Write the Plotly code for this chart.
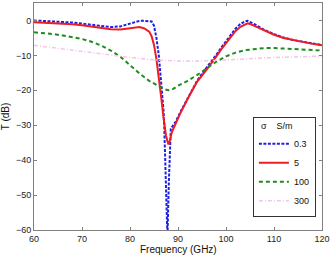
import plotly.graph_objects as go

# sigma = 0.3 S/m
f_03 = [60, 62, 65, 68, 70, 72, 74, 76, 78, 80, 81, 82, 83, 84, 84.5, 85, 85.5, 86, 86.5, 87, 87.15, 87.5, 87.8,
        88.1, 88.5, 89, 89.5, 90.5, 92, 94, 96, 97, 98, 99, 100, 101, 102, 103, 104, 104.5, 105, 106, 107, 108,
        110, 112, 114, 116, 118, 120]
t_03 = [0, -0.1, -0.3, -0.6, -0.9, -1.3, -1.7, -1.9, -1.7, -0.9, -0.4, -0.1, -0.1, -0.2, -0.3, -1.5, -5, -10,
        -17, -26, -31, -46, -62, -46, -31, -30, -29, -26.2, -22.2, -17.2, -13.4, -11.7, -9.8, -7.8, -5.9, -4.0,
        -2.3, -1.0, -0.2, -0.1, -0.4, -1.1, -1.9, -2.7, -3.9, -4.9, -5.6, -6.1, -6.6, -7.0]

# sigma = 5 S/m
f_5 = [60, 62, 65, 68, 70, 72, 74, 76, 78, 80, 81, 82, 83, 84, 84.5, 85, 85.5, 86, 86.5, 87, 87.5, 88, 88.3,
       88.7, 89.5, 90.5, 92, 94, 96, 97, 98, 99, 100, 101, 102, 103, 104, 104.5, 105, 106, 107, 108, 110, 112,
       114, 116, 118, 120]
t_5 = [-0.5, -0.6, -0.8, -1.1, -1.4, -1.8, -2.2, -2.5, -2.6, -2.2, -1.9, -1.9, -2.3, -3.2, -4.5, -7, -11, -16,
       -22, -28, -33, -35.5, -34.5, -32, -29.5, -26.5, -22.5, -17.5, -14, -12.3, -10.3, -8.3, -6.5, -4.6, -3.0,
       -1.8, -1.0, -0.8, -1.0, -1.6, -2.3, -3.0, -4.1, -5.0, -5.6, -6.2, -6.7, -7.1]

# sigma = 100 S/m
f_100 = [60, 62, 64, 66, 68, 70, 72, 74, 76, 78, 80, 82, 84, 86, 87, 88, 89, 90, 92, 94, 96, 98, 100, 102, 104,
         106, 108, 110, 112, 114, 116, 118, 120]
t_100 = [-3.4, -3.6, -3.9, -4.3, -4.8, -5.3, -6.1, -7.2, -8.6, -10.4, -12.8, -15.2, -17.3, -19.0, -19.6, -20.0,
         -19.6, -18.7, -17.3, -15.6, -13.7, -11.8, -10.3, -9.2, -8.5, -8.1, -7.9, -7.9, -8.0, -8.2, -8.4, -8.5, -8.6]

# sigma = 300 S/m
f_300 = [60, 65, 70, 75, 80, 85, 90, 95, 100, 105, 110, 115, 120]
t_300 = [-7.1, -7.9, -8.8, -9.7, -10.6, -11.3, -11.6, -11.6, -11.3, -10.9, -10.6, -10.4, -10.2]

names = ["0.3", "5", "100", "300"]
x_ticks = [60, 70, 80, 90, 100, 110, 120]
y_ticks = [0, -10, -20, -30, -40, -50, -60]
x_title = "Frequency (GHz)"
y_title = "T (dB)"

fig = go.Figure()
fig.add_trace(go.Scatter(x=f_03, y=t_03, name=names[0], mode="lines",
                         line=dict(color="#1f1fe0", width=2, dash="3px,1.5px")))
fig.add_trace(go.Scatter(x=f_5, y=t_5, name=names[1], mode="lines",
                         line=dict(color="#ee1c24", width=2)))
fig.add_trace(go.Scatter(x=f_100, y=t_100, name=names[2], mode="lines",
                         line=dict(color="#1e8c1e", width=2, dash="4px,3px")))
fig.add_trace(go.Scatter(x=f_300, y=t_300, name=names[3], mode="lines",
                         line=dict(color="#f4c4ec", width=1.5, dash="4px,2px,1px,2px")))

font_family = "Liberation Sans, Arial"
axis_common = dict(showline=True, linecolor="#808080", linewidth=1, mirror="ticks", ticks="inside",
                   ticklen=3, tickcolor="#808080", showgrid=False, zeroline=False, automargin=False,
                   tickfont=dict(family=font_family, size=9, color="#222"))
fig.update_xaxes(range=[60, 120], tickvals=x_ticks, **axis_common)
fig.update_yaxes(range=[-60, 5], tickvals=y_ticks,
                 title=dict(text=y_title, standoff=4,
                            font=dict(family=font_family, size=10, color="#111")), **axis_common)

fig.add_annotation(text=x_title, xref="paper", yref="paper", x=0.5, y=-0.088,
                   xanchor="center", yanchor="middle", showarrow=False,
                   font=dict(family=font_family, size=10, color="#111"))

fig.update_layout(
    width=330, height=256,
    margin=dict(l=34, r=8, t=3, b=26),
    paper_bgcolor="white", plot_bgcolor="white",
    showlegend=True,
    legend=dict(x=0.76, y=0.5, xanchor="left", yanchor="top",
                bordercolor="#333", borderwidth=1, bgcolor="white",
                font=dict(family=font_family, size=9, color="#111"),
                title=dict(text="  σ    S/m", font=dict(family=font_family, size=9)),
                itemwidth=30, tracegroupgap=0),
)

fig.write_html("out.html")
